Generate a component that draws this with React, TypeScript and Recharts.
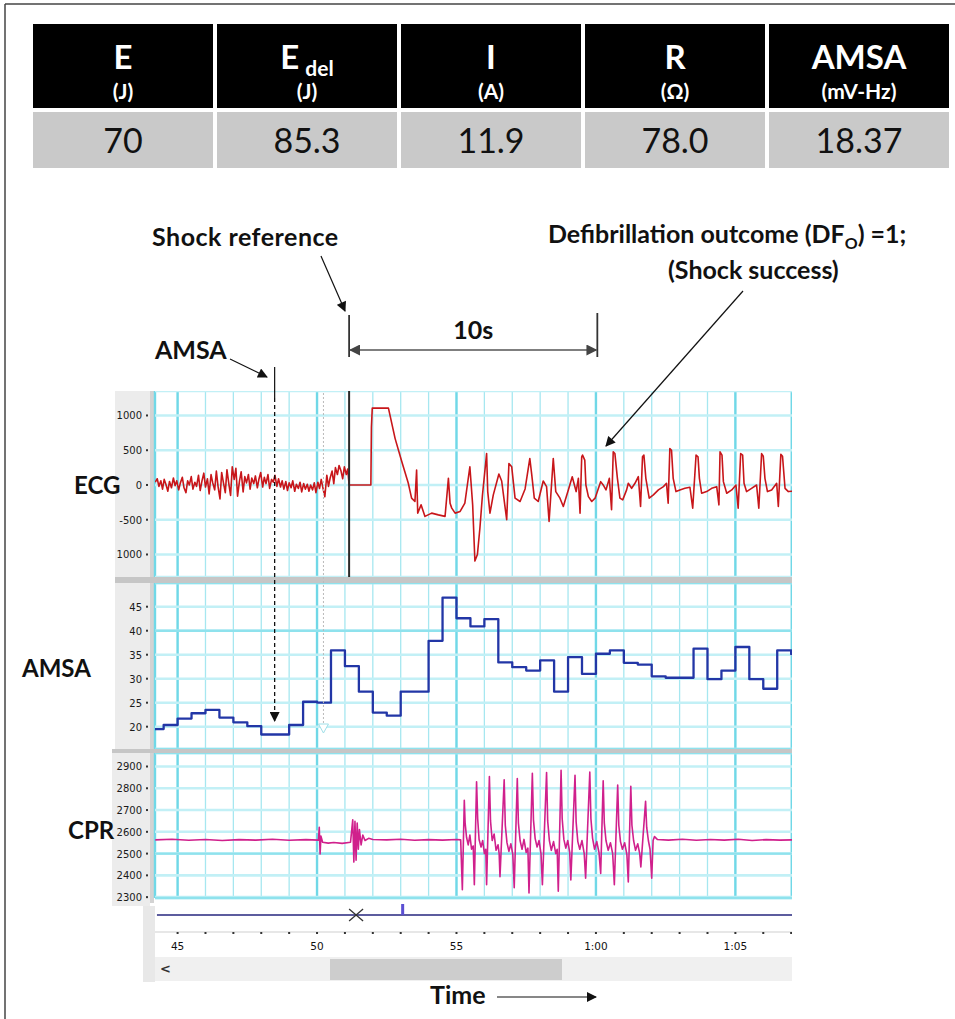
import React from 'react';
import { LineChart, ComposedChart, Line, Scatter, XAxis, YAxis, CartesianGrid, ReferenceLine } from 'recharts';

// ---------------- data ----------------
const TABLE_HEADERS = ['E', 'E', 'I', 'R', 'AMSA'];
const TABLE_SUBS = ['', 'del', '', '', ''];
const TABLE_UNITS = ['(J)', '(J)', '(A)', '(Ω)', '(mV-Hz)'];
const TABLE_VALUES = ['70', '85.3', '11.9', '78.0', '18.37'];

const T_DOMAIN: [number, number] = [44.19, 67.03];
const SECOND_TICKS = [45, 46, 47, 48, 49, 50, 51, 52, 53, 54, 55, 56, 57, 58, 59, 60, 61, 62, 63, 64, 65, 66, 67];
const MAJOR_TICKS = [45, 50, 55, 60, 65];
const TIME_LABELS: Record<string, string> = { '45': '45', '50': '50', '55': '55', '60': '1:00', '65': '1:05' };

const ECG_DOMAIN: [number, number] = [-1324, 1352];
const ECG_TICKS = [-1000, -500, 0, 500, 1000];
const ECG_TICK_LABELS: Record<string, string> = { '-1000': '1000', '-500': '-500', '0': '0', '500': '500', '1000': '1000' };
const AMSA_DOMAIN: [number, number] = [15.35, 49.94];
const AMSA_TICKS = [20, 25, 30, 35, 40, 45];
const AMSA_STRONG_TICKS = [40];
const CPR_DOMAIN: [number, number] = [2296, 2962];
const CPR_TICKS = [2300, 2400, 2500, 2600, 2700, 2800, 2900];
const CPR_STRONG_TICKS = [2500];

const SHOCK_T = 51.15;
const OUTCOME_T = 60.05;
const AMSA_MARK_T = 48.48;
const PAUSE_T = 50.23;

// ECG (µV) – ventricular fibrillation before the shock
const ecgPreShock: [number, number][] = [
  [44.20, 40], [44.27, 90], [44.33, -20], [44.40, 60], [44.46, -60], [44.52, 80], [44.58, 10], [44.65, -90],
  [44.71, 50], [44.78, -40], [44.85, 100], [44.91, -10], [44.97, 60], [45.04, -70], [45.10, 30], [45.17, 110],
  [45.23, -40], [45.30, -110], [45.36, 60], [45.42, 0], [45.49, 120], [45.55, -60], [45.62, 40], [45.68, -20],
  [45.75, 140], [45.81, -80], [45.88, 70], [45.94, 170], [46.00, -30], [46.07, 90], [46.13, -130], [46.20, 150],
  [46.26, 30], [46.33, -70], [46.39, 200], [46.45, -20], [46.52, -200], [46.58, 180], [46.64, 40], [46.71, -110],
  [46.77, 220], [46.84, 10], [46.90, -150], [46.96, 260], [47.03, 80], [47.09, 240], [47.15, -160], [47.22, 60],
  [47.28, 190], [47.35, -100], [47.41, 120], [47.47, 30], [47.54, 150], [47.60, -60], [47.66, 100], [47.73, 20],
  [47.79, 130], [47.86, -40], [47.92, 90], [47.98, 180], [48.05, -30], [48.11, 110], [48.17, 20], [48.24, 150],
  [48.30, -50], [48.37, 80], [48.43, 40], [48.49, 140], [48.56, -20], [48.62, 90], [48.69, -30], [48.75, 60],
  [48.81, -60], [48.88, 50], [48.94, -80], [49.00, 30], [49.07, -40], [49.13, 60], [49.20, -90], [49.26, 10],
  [49.33, -50], [49.39, 40], [49.45, -100], [49.52, 20], [49.58, -60], [49.65, 10], [49.71, -90], [49.77, 0],
  [49.84, -70], [49.90, 30], [49.96, -110], [50.03, 40], [50.09, -50], [50.15, 80], [50.22, -60], [50.28, -170],
  [50.35, 140], [50.41, -20], [50.47, 100], [50.54, 200], [50.60, 20], [50.66, 250], [50.73, 150], [50.79, 280],
  [50.86, 200], [50.92, 90], [50.98, 260], [51.05, 150], [51.10, 230], [51.15, 0],
];

// ECG after the shock: artefact, then organised rhythm
const ecgPostShock: [number, number][] = [
  [51.93, 0], [51.95, 830], [51.98, 1105], [52.56, 1105], [52.80, 667], [53.04, 333], [53.27, 28], [53.39, -190],
  [53.51, -238], [53.57, 214], [53.61, -405], [53.73, -286], [53.87, -452], [54.11, -405], [54.35, -430], [54.59, -452],
  [54.71, 95], [54.77, -262], [54.83, -333], [54.95, -405], [55.13, -381], [55.30, -262], [55.48, 262], [55.58, -286],
  [55.66, -1095], [55.75, -1000], [55.84, -619], [55.93, -152], [56.08, 452], [56.12, -95], [56.20, -405], [56.32, -143],
  [56.52, 157], [56.62, 57], [56.80, -500], [56.88, 310], [56.98, 262], [57.10, -190], [57.28, -238], [57.46, -57],
  [57.63, 381], [57.70, 143], [57.79, -190], [57.93, -238], [58.11, 57], [58.23, -24], [58.32, -524], [58.47, 381],
  [58.56, -95], [58.71, -190], [58.83, -310], [59.01, -71], [59.15, 119], [59.29, -95], [59.37, 95], [59.43, -405],
  [59.49, 405], [59.52, 430], [59.60, 357], [59.64, 0], [59.73, -167], [59.85, -238], [59.97, -190], [60.09, -48],
  [60.17, 48], [60.26, 0], [60.36, -71], [60.48, 95], [60.56, -357], [60.62, 476], [60.68, 452], [60.77, 95],
  [60.86, -190], [60.96, -214], [61.10, -71], [61.16, 24], [61.28, -48], [61.40, 24], [61.52, 119], [61.60, -310],
  [61.67, 405], [61.72, 430], [61.79, 95], [61.91, -190], [62.06, -143], [62.24, -71], [62.42, -24], [62.53, 24],
  [62.59, -262], [62.65, 524], [62.71, 500], [62.77, 95], [62.87, -95], [63.01, -71], [63.19, -48], [63.37, -33],
  [63.47, -333], [63.59, 430], [63.66, 405], [63.71, 95], [63.79, -119], [63.97, -95], [64.15, -48], [64.33, -24],
  [64.41, -286], [64.45, 476], [64.52, 430], [64.57, 48], [64.69, -119], [64.87, -71], [65.02, 0], [65.10, -333],
  [65.19, 452], [65.26, 430], [65.31, 24], [65.40, -95], [65.58, -48], [65.76, 0], [65.84, -333], [65.94, 452],
  [66.00, 414], [66.06, 95], [66.15, -95], [66.30, -71], [66.48, 24], [66.54, -310], [66.63, 440], [66.69, 414],
  [66.78, -48], [66.90, -95], [67.13, -86],
];

// AMSA (mV-Hz), updated every 0.5 s
const amsaSteps: [number, number][] = [
  [44.19, 19.5], [44.5, 20.35], [45.0, 21.7], [45.5, 22.8], [46.0, 23.5], [46.5, 21.9], [47.0, 20.9], [47.5, 20.1],
  [48.0, 18.37], [49.0, 20.35], [49.5, 25.2], [50.0, 25.0], [50.5, 35.9], [51.0, 32.6], [51.5, 27.3], [52.0, 22.95],
  [52.5, 22.3], [53.0, 27.3], [54.0, 37.9], [54.5, 46.9], [55.0, 42.6], [55.5, 40.9], [56.0, 42.4], [56.5, 33.4],
  [57.0, 32.4], [57.5, 31.7], [58.0, 33.8], [58.5, 27.3], [59.0, 34.5], [59.5, 31.0], [60.0, 35.2], [60.5, 35.9],
  [61.0, 33.3], [61.5, 32.95], [62.0, 30.5], [62.5, 30.2], [63.5, 36.25], [64.0, 29.9], [64.5, 31.7], [65.0, 36.6],
  [65.5, 29.9], [66.0, 27.9], [66.5, 35.9], [67.0, 35.1], [67.03, 35.1],
];

// CPR (compression depth signal)
const cprBefore: [number, number][] = [
  [44.20, 2563], [44.80, 2566], [45.40, 2561], [46.00, 2565], [46.60, 2560], [47.20, 2564], [47.80, 2562], [48.40, 2566],
  [49.00, 2561], [49.60, 2564], [50.05, 2562], [50.08, 2621], [50.11, 2498], [50.14, 2580], [50.20, 2552], [50.40, 2548],
  [50.60, 2551], [50.90, 2547], [51.20, 2552], [51.28, 2655], [51.32, 2461], [51.36, 2648], [51.40, 2470], [51.44, 2640],
  [51.48, 2520], [51.52, 2610], [51.58, 2540], [51.64, 2585], [51.72, 2560], [51.85, 2570], [52.00, 2565], [52.50, 2563],
  [53.00, 2566], [53.50, 2561], [54.00, 2564], [54.50, 2562], [55.00, 2565], [55.15, 2563],
];
const cprCompressions: [number, number][] = [
  [55.21, 2334], [55.28, 2745], [55.31, 2640], [55.36, 2575], [55.42, 2540], [55.48, 2585], [55.54, 2520], [55.60, 2535],
  [55.64, 2357], [55.72, 2830], [55.76, 2660], [55.81, 2565], [55.88, 2530], [55.94, 2560], [56.00, 2500], [56.05, 2520],
  [56.08, 2357], [56.18, 2854], [56.22, 2650], [56.28, 2560], [56.35, 2590], [56.42, 2515], [56.49, 2540], [56.53, 2500],
  [56.56, 2394], [56.71, 2839], [56.75, 2630], [56.81, 2550], [56.88, 2510], [56.95, 2545], [57.02, 2495],
  [57.07, 2343], [57.18, 2845], [57.22, 2640], [57.28, 2560], [57.35, 2520], [57.42, 2565], [57.50, 2505], [57.56, 2525],
  [57.60, 2319], [57.72, 2869], [57.76, 2655], [57.82, 2570], [57.89, 2530], [57.96, 2560], [58.03, 2500],
  [58.08, 2357], [58.23, 2872], [58.27, 2650], [58.33, 2560], [58.40, 2515], [58.48, 2555], [58.56, 2500], [58.61, 2520],
  [58.65, 2327], [58.75, 2883], [58.79, 2660], [58.85, 2565], [58.92, 2525], [58.99, 2560], [59.06, 2505],
  [59.10, 2379], [59.25, 2860], [59.29, 2645], [59.35, 2555], [59.42, 2520], [59.50, 2560], [59.58, 2500],
  [59.63, 2387], [59.78, 2874], [59.82, 2660], [59.88, 2570], [59.95, 2520], [60.03, 2555], [60.11, 2505],
  [60.17, 2409], [60.26, 2834], [60.30, 2640], [60.36, 2560], [60.44, 2515], [60.52, 2550], [60.60, 2500],
  [60.66, 2357], [60.78, 2815], [60.82, 2630], [60.88, 2555], [60.95, 2520], [61.03, 2550], [61.11, 2495],
  [61.16, 2370], [61.25, 2809], [61.29, 2630], [61.35, 2560], [61.42, 2515], [61.50, 2545], [61.57, 2500],
  [61.61, 2439], [61.78, 2740], [61.82, 2620], [61.88, 2560], [61.94, 2520], [62.00, 2387], [62.05, 2560],
];
const cprAfter: [number, number][] = [
  [62.10, 2578], [62.20, 2565], [62.60, 2562], [63.10, 2566], [63.60, 2561], [64.10, 2565], [64.60, 2562], [65.10, 2566],
  [65.60, 2560], [66.10, 2564], [66.60, 2562], [67.03, 2563],
];

// event strip (pause marker and annotation marker)
const eventLine: [number, number][] = [[44.26, 0.5], [67.03, 0.5]];
const eventCross: [number, number][] = [[51.4, 0.5]];
const eventBar: [number, number][] = [[53.07, 0.5]];

// ---------------- helpers ----------------
const toRows = (pts: [number, number][]) => pts.map(([t, v]) => ({ t, v }));
const ecgData = toRows([...ecgPreShock, ...ecgPostShock]);
const amsaData = toRows(amsaSteps);
const cprData = toRows([...cprBefore, ...cprCompressions, ...cprAfter]);

const CH_LEFT = 115;
const CH_WIDTH = 677;
const AXIS_W = 40;
const timeToX = (t: number) => CH_LEFT + AXIS_W + ((t - T_DOMAIN[0]) / (T_DOMAIN[1] - T_DOMAIN[0])) * (CH_WIDTH - AXIS_W);

const GRID_MINOR = '#a6e7f0';
const GRID_MAJOR = '#70d8e7';
const GRID_H = '#c2f0f6';
const BOLD_FONT = "Lato, 'Open Sans', sans-serif";
const TICK_FONT = "'DejaVu Sans', Verdana, sans-serif";

const makeYTick = (labels?: Record<string, string>) => (props: any) => {
  const { x, y, payload } = props;
  const key = String(payload.value);
  const label = labels && labels[key] !== undefined ? labels[key] : key;
  return (
    <g>
      <text x={x - 13} y={y} dy={4} textAnchor="end" fontSize={10} fontFamily={TICK_FONT} fill="#1a1a1a">
        {label}
      </text>
      <rect x={x - 9} y={y - 1} width={2} height={2} fill="#333" />
    </g>
  );
};

const TimeTick = (props: any) => {
  const { x, y, payload } = props;
  const label = TIME_LABELS[String(payload.value)];
  return (
    <g>
      <rect x={x - 1} y={y} width={2} height={2} fill="#333" />
      {label ? (
        <text x={x} y={y + 18} textAnchor="middle" fontSize={10.5} fontFamily={TICK_FONT} fill="#111">
          {label}
        </text>
      ) : null}
    </g>
  );
};

interface PanelProps {
  top: number;
  height: number;
  extraBottom?: number;
  data: { t: number; v: number }[];
  domain: [number, number];
  ticks: number[];
  strongTicks?: number[];
  labels?: Record<string, string>;
  color: string;
  width: number;
  type: 'linear' | 'stepAfter';
  shock?: boolean;
}

const Panel = ({ top, height, extraBottom = 0, data, domain, ticks, strongTicks, labels, color, width, type, shock }: PanelProps) => (
  <div style={{ position: 'absolute', left: CH_LEFT, top, width: CH_WIDTH, height: height + extraBottom }}>
    <LineChart width={CH_WIDTH} height={height + extraBottom} margin={{ top: 0, right: 0, bottom: extraBottom, left: 0 }}>
      <XAxis xAxisId={0} type="number" dataKey="t" domain={T_DOMAIN} ticks={SECOND_TICKS} allowDataOverflow hide />
      <XAxis xAxisId="major" type="number" dataKey="t" domain={T_DOMAIN} ticks={MAJOR_TICKS} allowDataOverflow hide />
      <YAxis
        yAxisId={0}
        type="number"
        domain={domain}
        ticks={ticks}
        allowDataOverflow
        width={AXIS_W}
        axisLine={false}
        tickLine={false}
        tickSize={0}
        tickMargin={0}
        interval={0}
        tick={makeYTick(labels)}
      />
      <YAxis yAxisId="strong" type="number" domain={domain} ticks={strongTicks || []} allowDataOverflow hide />
      <CartesianGrid horizontal={false} stroke={GRID_MINOR} strokeWidth={1.3} />
      <CartesianGrid xAxisId="major" horizontal={false} stroke={GRID_MAJOR} strokeWidth={2.4} />
      <CartesianGrid vertical={false} stroke={GRID_H} strokeWidth={2.6} />
      {strongTicks ? <CartesianGrid yAxisId="strong" vertical={false} stroke="#8fe2ed" strokeWidth={2.4} /> : null}
      <Line
        data={data}
        dataKey="v"
        type={type}
        stroke={color}
        strokeWidth={width}
        dot={false}
        isAnimationActive={false}
        strokeLinejoin="round"
      />
      {shock ? <ReferenceLine x={SHOCK_T} stroke="#2a2a2a" strokeWidth={2} /> : null}
    </LineChart>
  </div>
);

const CrossShape = (props: any) => {
  const { cx, cy } = props;
  return (
    <g stroke="#333" strokeWidth={1.3}>
      <line x1={cx - 7} y1={cy - 6} x2={cx + 7} y2={cy + 6} />
      <line x1={cx - 7} y1={cy + 6} x2={cx + 7} y2={cy - 6} />
    </g>
  );
};
const BarShape = (props: any) => {
  const { cx, cy } = props;
  return <rect x={cx - 1.5} y={cy - 11} width={3} height={11} fill="#5b4fd2" />;
};

const EventAxis = () => (
  <div style={{ position: 'absolute', left: CH_LEFT, top: 898, width: CH_WIDTH, height: 59 }}>
    <ComposedChart width={CH_WIDTH} height={59} margin={{ top: 0, right: 0, bottom: 0, left: AXIS_W }}>
      <XAxis
        type="number"
        dataKey="t"
        domain={T_DOMAIN}
        ticks={SECOND_TICKS}
        allowDataOverflow
        height={25}
        interval={0}
        tickLine={false}
        tickSize={0}
        tickMargin={0}
        axisLine={{ stroke: '#cfcfcf' }}
        tick={TimeTick}
      />
      <YAxis type="number" dataKey="v" domain={[0, 1]} hide />
      <Line data={toRows(eventLine)} dataKey="v" stroke="#26267e" strokeWidth={1.6} dot={false} isAnimationActive={false} />
      <Scatter data={toRows(eventCross)} dataKey="v" shape={CrossShape} isAnimationActive={false} />
      <Scatter data={toRows(eventBar)} dataKey="v" shape={BarShape} isAnimationActive={false} />
    </ComposedChart>
  </div>
);

const COL_X = [33, 217, 401, 585, 769];
const COL_W = 180;

const Table = () => (
  <>
    {TABLE_HEADERS.map((h, i) => (
      <div
        key={'h' + i}
        style={{
          position: 'absolute', left: COL_X[i], top: 24, width: COL_W, height: 84, background: '#000',
          color: '#fff', fontFamily: BOLD_FONT, fontWeight: 700, textAlign: 'center',
        }}
      >
        <div style={{ position: 'absolute', left: 0, right: 0, top: 15, height: 34, lineHeight: '34px', fontSize: 33 }}>
          {h}
          {TABLE_SUBS[i] ? <span style={{ fontSize: 21, position: 'relative', top: 7, marginLeft: 6 }}>{TABLE_SUBS[i]}</span> : null}
        </div>
        <div style={{ position: 'absolute', left: 0, right: 0, top: 55, height: 24, lineHeight: '24px', fontSize: 21 }}>
          {TABLE_UNITS[i]}
        </div>
      </div>
    ))}
    {TABLE_VALUES.map((v, i) => (
      <div
        key={'v' + i}
        style={{
          position: 'absolute', left: COL_X[i], top: 112, width: COL_W, height: 56, background: '#c9c9c9',
          color: '#111', fontFamily: BOLD_FONT, fontWeight: 400, fontSize: 34, lineHeight: '56px', textAlign: 'center',
        }}
      >
        {v}
      </div>
    ))}
  </>
);

const box = (left: number, top: number, width: number, height: number, background: string, key: string) => (
  <div key={key} style={{ position: 'absolute', left, top, width, height, background }} />
);

const Overlay = () => {
  const shockX = timeToX(SHOCK_T);
  const outX = timeToX(OUTCOME_T);
  const amsaX = timeToX(AMSA_MARK_T);
  const pauseX = timeToX(PAUSE_T);
  const txt = { fontFamily: BOLD_FONT, fontWeight: 700, fontSize: 25, fill: '#111' } as const;
  const lab = { fontFamily: BOLD_FONT, fontWeight: 700, fontSize: 24, fill: '#111' } as const;
  return (
    <svg width={955} height={1019} style={{ position: 'absolute', left: 0, top: 0, pointerEvents: 'none' }}>
      <defs>
        <marker id="ahBlack" viewBox="0 0 10 10" refX="9" refY="5" markerUnits="userSpaceOnUse" markerWidth="11" markerHeight="10" orient="auto-start-reverse">
          <path d="M0,0 L10,5 L0,10 z" fill="#111" />
        </marker>
        <marker id="ahGray" viewBox="0 0 10 10" refX="9" refY="5" markerUnits="userSpaceOnUse" markerWidth="13" markerHeight="11" orient="auto-start-reverse">
          <path d="M0,0 L10,5 L0,10 z" fill="#444" />
        </marker>
      </defs>
      {/* frame */}
      <line x1={5} y1={4} x2={955} y2={4} stroke="#444" strokeWidth={1.5} />
      <line x1={5} y1={4} x2={5} y2={1019} stroke="#444" strokeWidth={1.5} />

      {/* annotations */}
      <text x={152} y={246} {...txt} letterSpacing={0.5}>Shock reference</text>
      <line x1={321} y1={256} x2={345} y2={311} stroke="#111" strokeWidth={1.2} markerEnd="url(#ahBlack)" />
      <line x1={shockX} y1={315} x2={shockX} y2={357} stroke="#333" strokeWidth={1.8} />
      <line x1={outX} y1={313} x2={outX} y2={357} stroke="#333" strokeWidth={1.8} />
      <line x1={shockX + 1} y1={350} x2={outX - 1} y2={350} stroke="#555" strokeWidth={1.5} markerStart="url(#ahGray)" markerEnd="url(#ahGray)" />
      <text x={(shockX + outX) / 2} y={339} textAnchor="middle" {...txt}>10s</text>

      <text x={548} y={243} {...txt}>
        Defibrillation outcome (DF<tspan fontSize={16} dy={6}>O</tspan>
        <tspan dy={-6}>) =1;</tspan>
      </text>
      <text x={668} y={279} {...txt}>(Shock success)</text>
      <line x1={743} y1={291} x2={606} y2={446} stroke="#111" strokeWidth={1.2} markerEnd="url(#ahBlack)" />

      <text x={155} y={359} {...txt}>AMSA</text>
      <line x1={230} y1={359} x2={267} y2={377} stroke="#111" strokeWidth={1.1} markerEnd="url(#ahBlack)" />
      <line x1={amsaX} y1={367} x2={amsaX} y2={398} stroke="#111" strokeWidth={1.2} />
      <line x1={amsaX} y1={398} x2={amsaX} y2={721} stroke="#111" strokeWidth={1.3} strokeDasharray="4 3" markerEnd="url(#ahBlack)" />

      <line x1={pauseX} y1={393} x2={pauseX} y2={724} stroke="#bbbbbb" strokeWidth={1} strokeDasharray="2 2" />
      <path d={`M${pauseX - 5},724 L${pauseX + 5},724 L${pauseX},733 z`} fill="#fff" stroke="#9fdfe8" strokeWidth={1} />

      {/* channel names */}
      <text x={74} y={494} {...lab}>ECG</text>
      <text x={22} y={677} {...lab}>AMSA</text>
      <text x={68} y={839} {...lab}>CPR</text>

      {/* time caption */}
      <text x={430} y={1004} {...txt}>Time</text>
      <line x1={497} y1={997} x2={596} y2={997} stroke="#111" strokeWidth={1.2} markerEnd="url(#ahBlack)" />
    </svg>
  );
};

export default function App() {
  return (
    <div style={{ position: 'absolute', left: 0, top: 0, width: 955, height: 1019, background: '#fff', overflow: 'hidden' }}>
      <Table />
      {/* panel chrome */}
      {box(115, 391, 35, 186, '#ececec', 'g1')}
      {box(150, 391, 4, 186, '#d3d3d3', 'b1')}
      {box(115, 583, 35, 166, '#ececec', 'g2')}
      {box(150, 583, 4, 166, '#d3d3d3', 'b2')}
      {box(112, 753, 38, 153, '#ececec', 'g3')}
      {box(150, 753, 4, 150, '#d3d3d3', 'b3')}
      {box(115, 577, 677, 6, '#c6c6c6', 's1')}
      {box(112, 749, 680, 4, '#c6c6c6', 's2')}
      {box(143, 906, 12, 76, '#e8e8e8', 'g4')}
      {box(155, 957, 637, 24, '#f0f0f0', 'sb')}
      {box(330, 959, 232, 21, '#cdcdcd', 'th')}
      <div style={{ position: 'absolute', left: 160, top: 959, fontFamily: TICK_FONT, fontSize: 13, fontWeight: 700, color: '#333', lineHeight: '20px' }}>
        &lt;
      </div>

      <EventAxis />
      <Panel top={391} height={186} data={ecgData} domain={ECG_DOMAIN} ticks={ECG_TICKS} labels={ECG_TICK_LABELS} color="#c8161a" width={1.6} type="linear" shock />
      <Panel top={583} height={166} data={amsaData} domain={AMSA_DOMAIN} ticks={AMSA_TICKS} strongTicks={AMSA_STRONG_TICKS} color="#2236a6" width={2.3} type="stepAfter" />
      <Panel top={753} height={145} extraBottom={8} data={cprData} domain={CPR_DOMAIN} ticks={CPR_TICKS} strongTicks={CPR_STRONG_TICKS} color="#d0208c" width={1.6} type="linear" />
      <Overlay />
    </div>
  );
}
